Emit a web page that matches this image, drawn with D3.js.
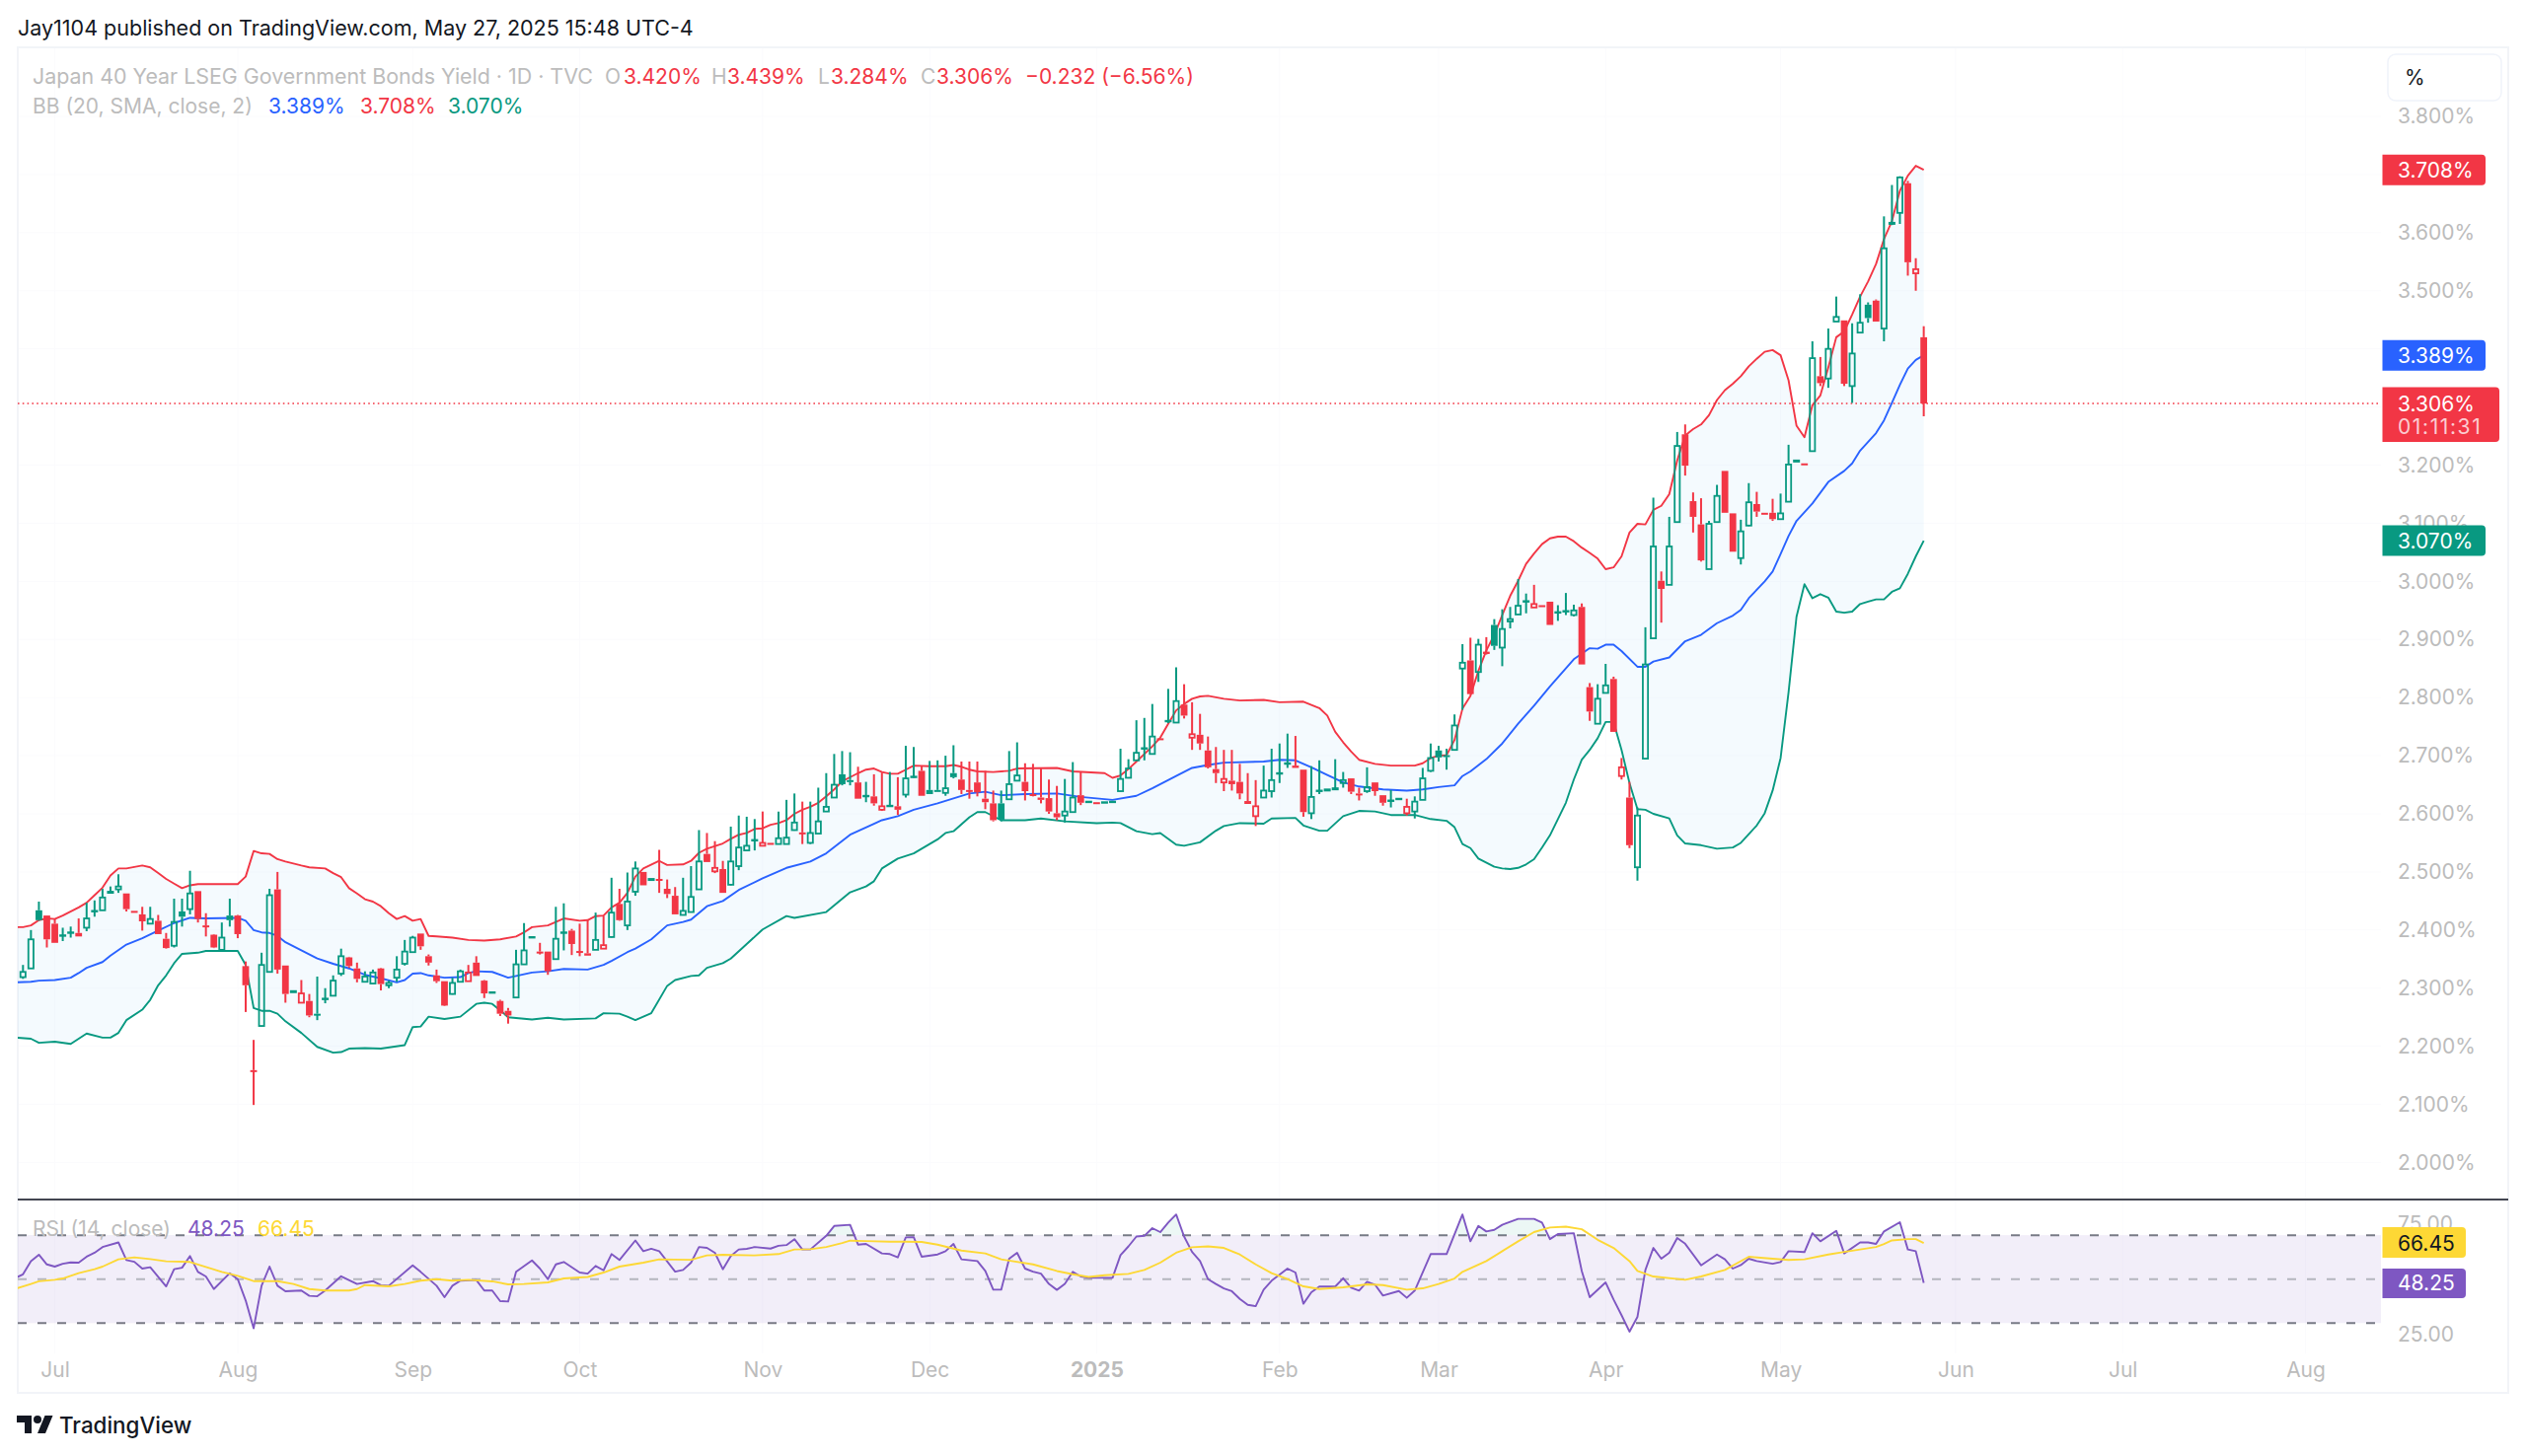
<!DOCTYPE html>
<html>
<head>
<meta charset="utf-8">
<title>Japan 40 Year Government Bonds Yield</title>
<style>
	html, body { margin: 0; background: #fff; }
	svg { display: block; }
	text { font-family: Inter, "Noto Sans", sans-serif; }
</style>
</head>
<body>
<div id="chart"></div>
<script src="https://cdn.jsdelivr.net/npm/d3@7"></script>
<script>
// daily candles, one entry per bar
var opens = [
	2.319,2.334,2.434,2.425,2.411,2.390,2.395,2.395,2.404,2.432,2.434,2.464,2.470,2.463,2.433,2.427,2.411,2.416,2.385,2.373,
	2.432,2.436,2.467,2.408,2.392,2.366,2.425,2.425,2.338,2.159,2.235,2.328,2.470,2.339,2.293,2.275,2.278,2.256,2.281,2.287,
	2.325,2.353,2.334,2.311,2.308,2.334,2.305,2.318,2.342,2.362,2.394,2.355,2.322,2.312,2.290,2.311,2.312,2.344,2.313,2.292,
	2.278,2.261,2.284,2.341,2.387,2.363,2.363,2.350,2.395,2.399,2.364,2.360,2.366,2.368,2.388,2.445,2.408,2.466,2.500,2.486,
	2.488,2.471,2.459,2.426,2.431,2.470,2.531,2.501,2.505,2.478,2.510,2.537,2.554,2.545,2.550,2.548,2.548,2.572,2.568,2.550,
	2.566,2.604,2.628,2.668,2.658,2.654,2.630,2.630,2.607,2.613,2.613,2.633,2.663,2.674,2.641,2.641,2.636,2.670,2.659,2.641,
	2.654,2.626,2.618,2.618,2.625,2.657,2.655,2.634,2.628,2.627,2.601,2.597,2.603,2.632,2.620,2.620,2.619,2.620,2.639,2.662,
	2.692,2.712,2.703,2.730,2.759,2.757,2.788,2.731,2.736,2.709,2.677,2.654,2.657,2.655,2.622,2.596,2.628,2.639,2.669,2.686,
	2.683,2.676,2.601,2.639,2.640,2.642,2.653,2.661,2.635,2.639,2.654,2.632,2.622,2.625,2.601,2.604,2.624,2.674,2.709,2.701,
	2.710,2.850,2.864,2.844,2.879,2.925,2.886,2.931,2.943,2.965,2.955,2.959,2.965,2.946,2.948,2.942,2.956,2.818,2.755,2.808,
	2.832,2.665,2.628,2.508,2.695,2.902,3.001,2.994,3.102,3.253,3.138,3.098,3.021,3.102,3.190,3.117,3.040,3.096,3.133,3.118,
	3.118,3.107,3.137,3.206,3.203,3.224,3.353,3.349,3.447,3.449,3.336,3.428,3.476,3.483,3.435,3.615,3.634,3.685,3.530,3.420
];
var highs = [
	2.340,2.400,2.449,2.425,2.420,2.404,2.406,2.420,2.447,2.451,2.471,2.475,2.496,2.463,2.433,2.440,2.440,2.426,2.395,2.454,
	2.454,2.502,2.467,2.429,2.393,2.413,2.454,2.426,2.346,2.211,2.361,2.471,2.500,2.339,2.295,2.314,2.290,2.320,2.300,2.322,
	2.368,2.354,2.344,2.329,2.332,2.335,2.313,2.355,2.383,2.390,2.394,2.358,2.332,2.312,2.318,2.332,2.340,2.355,2.314,2.293,
	2.280,2.266,2.366,2.412,2.388,2.378,2.363,2.440,2.446,2.402,2.411,2.417,2.430,2.424,2.490,2.471,2.499,2.518,2.500,2.488,
	2.538,2.487,2.474,2.490,2.510,2.572,2.567,2.553,2.519,2.578,2.597,2.595,2.591,2.604,2.550,2.604,2.624,2.635,2.621,2.621,
	2.645,2.670,2.703,2.708,2.706,2.681,2.655,2.668,2.671,2.672,2.663,2.717,2.715,2.683,2.691,2.692,2.700,2.718,2.690,2.690,
	2.690,2.674,2.640,2.640,2.708,2.723,2.687,2.686,2.678,2.659,2.648,2.660,2.689,2.672,2.621,2.620,2.620,2.621,2.712,2.694,
	2.761,2.765,2.789,2.730,2.815,2.852,2.823,2.792,2.772,2.733,2.715,2.710,2.710,2.686,2.670,2.658,2.683,2.712,2.721,2.738,
	2.734,2.676,2.682,2.692,2.642,2.694,2.672,2.661,2.645,2.680,2.654,2.632,2.641,2.626,2.626,2.630,2.679,2.721,2.717,2.712,
	2.771,2.892,2.903,2.901,2.904,2.935,2.952,2.956,3.004,2.979,2.994,2.959,2.965,2.959,2.980,2.960,2.962,2.825,2.823,2.858,
	2.836,2.696,2.655,2.611,2.921,3.144,3.017,3.111,3.257,3.270,3.153,3.143,3.104,3.166,3.190,3.117,3.106,3.169,3.154,3.118,
	3.142,3.151,3.235,3.208,3.203,3.413,3.386,3.435,3.490,3.449,3.444,3.494,3.480,3.485,3.628,3.682,3.697,3.689,3.556,3.439
];
var lows = [
	2.316,2.334,2.416,2.370,2.378,2.381,2.387,2.389,2.398,2.423,2.434,2.464,2.464,2.432,2.432,2.399,2.410,2.393,2.368,2.370,
	2.406,2.427,2.413,2.389,2.369,2.366,2.406,2.386,2.259,2.099,2.234,2.328,2.325,2.275,2.293,2.275,2.250,2.245,2.274,2.287,
	2.321,2.335,2.310,2.311,2.308,2.296,2.300,2.311,2.339,2.362,2.366,2.339,2.309,2.269,2.289,2.310,2.312,2.321,2.283,2.292,
	2.252,2.239,2.283,2.341,2.387,2.358,2.323,2.349,2.365,2.357,2.355,2.356,2.366,2.368,2.387,2.416,2.400,2.459,2.477,2.486,
	2.464,2.455,2.427,2.426,2.431,2.470,2.517,2.498,2.464,2.477,2.503,2.537,2.537,2.545,2.549,2.548,2.548,2.571,2.548,2.548,
	2.566,2.604,2.628,2.649,2.649,2.626,2.620,2.614,2.605,2.613,2.598,2.628,2.662,2.631,2.634,2.638,2.631,2.661,2.634,2.626,
	2.630,2.608,2.587,2.587,2.624,2.656,2.623,2.630,2.618,2.600,2.589,2.585,2.603,2.615,2.620,2.619,2.619,2.620,2.638,2.661,
	2.692,2.692,2.703,2.729,2.756,2.757,2.764,2.710,2.710,2.678,2.653,2.639,2.640,2.625,2.617,2.579,2.628,2.628,2.653,2.679,
	2.679,2.595,2.591,2.634,2.640,2.642,2.645,2.634,2.623,2.636,2.631,2.614,2.611,2.625,2.597,2.592,2.624,2.672,2.690,2.676,
	2.710,2.779,2.805,2.827,2.874,2.882,2.854,2.919,2.943,2.945,2.955,2.957,2.925,2.932,2.942,2.940,2.857,2.760,2.755,2.808,
	2.741,2.659,2.541,2.485,2.694,2.902,2.929,2.994,3.102,3.182,3.084,3.034,3.021,3.102,3.118,3.051,3.029,3.095,3.111,3.116,
	3.104,3.107,3.137,3.206,3.201,3.224,3.336,3.333,3.447,3.336,3.307,3.428,3.445,3.447,3.413,3.613,3.615,3.526,3.500,3.284
];
var closes = [
	2.328,2.384,2.417,2.384,2.378,2.391,2.396,2.389,2.420,2.433,2.456,2.466,2.475,2.436,2.432,2.415,2.419,2.393,2.369,2.414,
	2.423,2.463,2.419,2.407,2.370,2.387,2.417,2.393,2.305,2.158,2.340,2.460,2.332,2.290,2.295,2.291,2.253,2.254,2.282,2.313,
	2.355,2.338,2.316,2.320,2.327,2.307,2.309,2.332,2.363,2.387,2.372,2.344,2.312,2.270,2.309,2.329,2.327,2.321,2.291,2.293,
	2.256,2.253,2.341,2.365,2.388,2.361,2.329,2.385,2.396,2.376,2.363,2.356,2.383,2.374,2.430,2.417,2.449,2.506,2.477,2.488,
	2.487,2.462,2.427,2.433,2.457,2.518,2.517,2.507,2.464,2.518,2.542,2.545,2.555,2.550,2.549,2.558,2.559,2.585,2.566,2.567,
	2.587,2.612,2.650,2.651,2.655,2.626,2.631,2.618,2.613,2.614,2.607,2.661,2.664,2.631,2.634,2.638,2.644,2.663,2.641,2.639,
	2.637,2.620,2.589,2.590,2.651,2.666,2.639,2.633,2.624,2.604,2.594,2.604,2.628,2.619,2.621,2.619,2.620,2.621,2.660,2.678,
	2.705,2.713,2.733,2.729,2.760,2.794,2.769,2.737,2.721,2.680,2.670,2.660,2.651,2.635,2.617,2.613,2.640,2.658,2.670,2.687,
	2.679,2.603,2.629,2.640,2.642,2.644,2.658,2.638,2.634,2.646,2.639,2.619,2.623,2.626,2.612,2.621,2.661,2.696,2.697,2.698,
	2.752,2.860,2.806,2.891,2.875,2.889,2.918,2.935,2.958,2.966,2.961,2.957,2.925,2.947,2.949,2.950,2.857,2.776,2.798,2.821,
	2.741,2.680,2.546,2.597,2.857,3.060,2.987,3.060,3.233,3.199,3.111,3.036,3.099,3.147,3.118,3.051,3.086,3.136,3.120,3.116,
	3.107,3.117,3.201,3.208,3.201,3.384,3.341,3.400,3.455,3.340,3.392,3.445,3.453,3.447,3.573,3.617,3.695,3.549,3.537,3.306
];

// Bollinger bands: [bar, yield], kept at the bends of each line
var bbUpper = [
	[-1,2.405],[0,2.405],[1,2.408],[2,2.417],[3,2.420],[4,2.419],[5,2.425],[7,2.439],[8,2.447],[9,2.460],[10,2.473],[11,2.494],[12,2.506],[13,2.506],[15,2.511],[16,2.508],[17,2.498],[18,2.488],[19,2.480],[20,2.472],
	[21,2.477],[22,2.479],[27,2.479],[28,2.492],[29,2.536],[30,2.532],[31,2.531],[32,2.522],[33,2.518],[35,2.511],[36,2.508],[38,2.506],[39,2.498],[40,2.491],[41,2.472],[42,2.463],[43,2.453],[44,2.449],[45,2.441],[46,2.429],
	[47,2.419],[48,2.424],[49,2.416],[50,2.419],[51,2.390],[52,2.389],[54,2.387],[56,2.383],[58,2.382],[60,2.384],[62,2.389],[63,2.396],[64,2.405],[66,2.408],[67,2.414],[68,2.420],[70,2.416],[71,2.417],[72,2.424],[73,2.425],
	[74,2.439],[75,2.447],[76,2.464],[77,2.492],[78,2.506],[80,2.519],[81,2.512],[83,2.513],[84,2.519],[85,2.533],[86,2.540],[88,2.549],[89,2.557],[90,2.564],[91,2.567],[92,2.574],[93,2.575],[94,2.581],[95,2.584],[96,2.589],
	[97,2.600],[98,2.607],[99,2.612],[100,2.619],[101,2.630],[102,2.642],[103,2.656],[105,2.670],[106,2.676],[107,2.678],[108,2.672],[109,2.669],[110,2.669],[111,2.676],[112,2.683],[114,2.682],[116,2.682],[117,2.684],[118,2.681],[119,2.676],
	[120,2.673],[122,2.672],[124,2.674],[125,2.678],[130,2.679],[132,2.673],[136,2.670],[137,2.662],[138,2.666],[139,2.677],[140,2.690],[141,2.703],[142,2.716],[143,2.731],[144,2.755],[145,2.778],[146,2.789],[147,2.798],[148,2.802],[149,2.803],
	[151,2.798],[153,2.795],[156,2.796],[158,2.792],[161,2.793],[163,2.782],[164,2.769],[165,2.741],[166,2.723],[167,2.707],[168,2.693],[170,2.686],[172,2.683],[175,2.683],[176,2.687],[177,2.696],[178,2.700],[179,2.701],[180,2.727],[181,2.781],
	[182,2.803],[183,2.846],[184,2.881],[185,2.908],[186,2.942],[187,2.975],[188,3.001],[189,3.030],[190,3.048],[191,3.064],[192,3.074],[193,3.077],[194,3.077],[195,3.069],[196,3.058],[197,3.049],[198,3.039],[199,3.021],[200,3.024],[201,3.043],
	[202,3.084],[203,3.099],[204,3.098],[205,3.123],[206,3.130],[207,3.150],[208,3.208],[209,3.251],[210,3.262],[211,3.270],[212,3.286],[213,3.312],[214,3.329],[215,3.340],[216,3.353],[217,3.370],[218,3.383],[219,3.395],[220,3.398],[221,3.389],
	[222,3.346],[223,3.268],[224,3.248],[225,3.303],[226,3.320],[227,3.368],[228,3.420],[229,3.430],[230,3.459],[231,3.490],[232,3.516],[233,3.546],[234,3.589],[235,3.620],[236,3.672],[237,3.698],[238,3.715],[239,3.708]
];
var bbBasis = [
	[-1,2.310],[1,2.311],[2,2.313],[4,2.314],[6,2.318],[7,2.326],[8,2.335],[10,2.345],[11,2.356],[13,2.375],[15,2.386],[17,2.399],[19,2.412],[21,2.421],[23,2.420],[27,2.421],[28,2.416],[29,2.400],[30,2.396],[31,2.395],
	[32,2.390],[33,2.379],[35,2.365],[37,2.351],[39,2.342],[41,2.334],[43,2.323],[45,2.317],[47,2.310],[48,2.314],[49,2.325],[50,2.326],[51,2.322],[53,2.318],[55,2.319],[56,2.326],[57,2.329],[59,2.328],[61,2.318],[62,2.321],
	[64,2.327],[66,2.329],[68,2.333],[71,2.332],[73,2.340],[74,2.347],[76,2.362],[77,2.368],[79,2.384],[81,2.408],[83,2.414],[84,2.418],[86,2.441],[88,2.450],[90,2.469],[93,2.489],[96,2.507],[99,2.518],[101,2.532],[104,2.564],
	[107,2.583],[108,2.589],[110,2.596],[112,2.607],[115,2.618],[119,2.635],[121,2.638],[123,2.632],[126,2.634],[130,2.635],[133,2.629],[137,2.624],[140,2.631],[142,2.644],[145,2.665],[147,2.679],[149,2.684],[151,2.688],[156,2.690],[158,2.693],
	[160,2.692],[162,2.680],[164,2.667],[166,2.654],[168,2.647],[171,2.642],[174,2.640],[176,2.642],[178,2.646],[180,2.649],[181,2.665],[182,2.673],[184,2.694],[186,2.721],[188,2.755],[190,2.786],[192,2.819],[195,2.866],[197,2.885],[198,2.884],
	[199,2.891],[200,2.891],[201,2.880],[203,2.853],[204,2.853],[205,2.862],[207,2.869],[209,2.897],[211,2.908],[213,2.928],[215,2.941],[216,2.951],[217,2.971],[219,3.000],[220,3.017],[221,3.047],[222,3.078],[223,3.104],[225,3.134],[227,3.171],
	[229,3.190],[230,3.203],[231,3.225],[233,3.255],[234,3.277],[235,3.307],[236,3.338],[237,3.366],[238,3.381],[239,3.389]
];
var bbLower = [
	[-1,2.215],[1,2.213],[2,2.206],[4,2.208],[6,2.204],[8,2.222],[10,2.215],[11,2.215],[12,2.223],[13,2.245],[15,2.263],[16,2.280],[17,2.305],[18,2.322],[19,2.343],[20,2.359],[22,2.361],[23,2.364],[27,2.364],[28,2.340],
	[29,2.266],[30,2.261],[31,2.261],[32,2.256],[33,2.243],[35,2.223],[37,2.199],[39,2.189],[40,2.190],[41,2.196],[43,2.197],[45,2.196],[48,2.202],[49,2.233],[50,2.234],[51,2.251],[53,2.247],[55,2.251],[57,2.273],[58,2.275],
	[59,2.273],[60,2.262],[61,2.250],[64,2.246],[66,2.249],[68,2.246],[72,2.248],[73,2.257],[75,2.256],[76,2.251],[77,2.245],[79,2.257],[81,2.304],[82,2.314],[84,2.321],[85,2.322],[86,2.335],[88,2.343],[89,2.351],[91,2.376],
	[93,2.401],[96,2.424],[97,2.421],[101,2.431],[104,2.465],[106,2.475],[107,2.484],[108,2.506],[110,2.523],[112,2.532],[115,2.556],[116,2.567],[117,2.570],[119,2.594],[120,2.603],[121,2.603],[123,2.589],[126,2.589],[128,2.592],[131,2.587],
	[135,2.584],[137,2.585],[138,2.584],[140,2.570],[142,2.565],[143,2.567],[145,2.547],[146,2.545],[148,2.551],[150,2.571],[151,2.579],[153,2.584],[156,2.583],[157,2.592],[160,2.593],[161,2.580],[163,2.571],[164,2.571],[166,2.596],[168,2.605],
	[170,2.604],[172,2.598],[175,2.598],[177,2.591],[179,2.588],[180,2.577],[181,2.548],[182,2.541],[183,2.523],[185,2.509],[186,2.506],[187,2.505],[188,2.507],[189,2.513],[190,2.522],[191,2.542],[192,2.563],[193,2.591],[194,2.619],[195,2.659],
	[196,2.693],[197,2.710],[198,2.730],[199,2.758],[200,2.758],[201,2.710],[202,2.653],[203,2.608],[204,2.607],[205,2.600],[207,2.592],[208,2.563],[209,2.549],[211,2.546],[213,2.540],[215,2.542],[216,2.550],[217,2.565],[218,2.580],[219,2.601],
	[220,2.640],[221,2.696],[222,2.809],[223,2.939],[224,2.995],[225,2.971],[226,2.978],[227,2.972],[228,2.948],[229,2.946],[230,2.948],[231,2.961],[232,2.965],[233,2.969],[234,2.969],[235,2.982],[236,2.988],[237,3.013],[238,3.043],[239,3.070]
];

// RSI pane: [bar, value]
var rsiLine = [
	[-1,50.4],[0,52.2],[1,58.2],[2,61.1],[3,56.7],[4,55.7],[5,57.0],[6,57.6],[7,57.5],[8,60.2],[9,62.0],[10,64.6],[12,66.7],[13,58.7],[14,57.9],[15,54.8],[16,55.4],[18,46.7],[19,54.5],[20,55.2],
	[21,60.5],[22,53.3],[23,51.2],[24,45.5],[26,52.7],[27,50.0],[28,40.3],[29,27.6],[30,47.0],[31,55.7],[32,47.0],[33,44.5],[35,44.8],[36,42.4],[37,42.2],[38,44.8],[40,51.3],[42,47.8],[44,49.1],[45,47.2],
	[46,47.0],[49,56.3],[50,53.3],[52,47.0],[53,41.8],[54,47.0],[55,49.3],[57,49.6],[58,44.8],[59,44.8],[60,40.0],[61,39.8],[62,53.3],[64,58.5],[65,54.8],[66,50.0],[67,56.7],[68,57.8],[70,53.0],[71,52.5],
	[72,56.0],[73,54.0],[74,61.4],[75,58.7],[77,67.6],[78,62.7],[79,63.8],[80,62.7],[82,53.4],[83,54.2],[84,57.5],[85,64.6],[86,64.2],[87,62.0],[88,54.5],[89,60.5],[90,63.5],[91,63.8],[92,64.6],[94,63.9],
	[95,65.2],[96,65.5],[97,68.2],[98,63.5],[99,63.5],[101,69.7],[102,74.2],[104,74.7],[105,65.7],[106,66.0],[108,61.7],[109,61.4],[110,59.9],[111,69.0],[112,69.1],[113,60.2],[115,61.2],[116,62.7],[117,66.0],[118,59.0],
	[120,58.2],[121,53.7],[122,45.2],[123,45.2],[124,59.3],[125,62.0],[126,54.8],[127,53.4],[128,52.5],[129,47.8],[130,45.1],[131,47.8],[132,53.3],[133,51.2],[134,50.6],[137,50.6],[138,60.9],[139,64.9],[140,69.4],[141,69.7],
	[142,73.2],[143,71.4],[144,75.7],[145,79.4],[146,69.4],[147,62.4],[148,58.2],[149,50.0],[150,47.8],[151,45.8],[152,44.5],[153,41.0],[154,38.3],[155,37.7],[156,45.2],[157,49.3],[159,54.8],[160,53.0],[161,38.8],[162,44.0],
	[163,46.6],[165,46.6],[166,50.4],[167,46.1],[168,44.8],[169,48.8],[170,47.5],[171,42.5],[173,44.6],[174,41.5],[175,44.8],[177,61.4],[179,61.4],[181,79.4],[182,67.2],[183,74.2],[184,71.7],[185,72.4],[186,74.7],[188,77.4],
	[190,77.4],[191,75.7],[192,68.2],[193,70.5],[195,70.9],[196,53.7],[197,41.8],[199,48.5],[200,40.7],[201,33.6],[202,26.1],[203,32.8],[204,54.2],[205,64.2],[206,59.3],[207,62.0],[208,68.7],[209,66.1],[211,56.3],[213,61.2],
	[214,59.0],[215,54.8],[216,56.4],[217,59.3],[218,58.2],[220,57.0],[221,57.8],[222,62.7],[224,62.3],[225,70.9],[226,67.2],[228,72.0],[229,61.7],[231,66.7],[232,66.7],[233,66.0],[234,71.7],[236,75.9],[237,63.5],[238,62.7],[239,48.25]
];
var rsiMa = [
	[-1,45.5],[1,47.8],[2,49.0],[4,49.7],[5,50.3],[6,51.5],[7,52.7],[9,54.5],[10,55.7],[12,59.0],[14,59.9],[16,59.1],[18,58.1],[21,57.8],[23,55.5],[25,53.3],[27,51.5],[29,49.1],[32,49.1],[34,47.8],
	[36,45.5],[38,44.8],[41,44.8],[42,45.5],[43,47.3],[46,46.7],[48,47.8],[50,49.3],[52,50.0],[54,49.3],[56,49.7],[59,49.0],[61,47.6],[63,47.8],[66,48.5],[68,50.3],[71,51.0],[73,53.0],[75,55.7],[78,57.5],
	[80,59.0],[84,58.8],[86,60.8],[88,61.1],[92,60.8],[95,61.4],[97,63.5],[99,63.6],[101,64.6],[103,66.4],[104,67.5],[106,67.3],[109,67.0],[111,67.0],[113,66.9],[115,65.7],[118,63.0],[121,61.7],[123,59.0],[127,56.7],
	[130,53.7],[132,52.2],[134,51.0],[136,51.8],[139,52.4],[141,54.2],[143,57.5],[145,62.0],[147,64.5],[149,64.9],[151,64.2],[153,61.2],[155,56.7],[157,52.7],[159,50.0],[161,46.7],[163,45.5],[166,46.3],[169,47.6],[171,47.3],
	[174,45.2],[176,45.8],[178,47.8],[180,50.3],[181,53.3],[184,58.2],[186,62.7],[188,67.2],[190,71.4],[192,73.5],[194,73.9],[196,72.7],[198,67.9],[200,64.2],[202,58.2],[203,53.7],[205,51.2],[209,49.7],[211,51.2],[214,54.2],
	[217,60.2],[220,59.3],[222,58.7],[224,59.0],[227,61.2],[229,62.4],[233,64.6],[234,66.0],[235,67.6],[237,68.2],[238,68.2],[239,66.45]
];

var monthTicks = [4, 27, 49, 70, 93, 114, 135, 158, 178, 199, 221, 243, 264, 287];
var monthLabels = ["Jul", "Aug", "Sep", "Oct", "Nov", "Dec", "2025", "Feb", "Mar", "Apr", "May", "Jun", "Jul", "Aug"];
var gridTicks = [2.0, 2.1, 2.2, 2.3, 2.4, 2.5, 2.6, 2.7, 2.8, 2.9, 3.0, 3.1, 3.2, 3.3, 3.4, 3.5, 3.6, 3.7, 3.8];
// 3.3, 3.4 and 3.7 sit behind the value tags in the reference
var priceTicks = [2.0, 2.1, 2.2, 2.3, 2.4, 2.5, 2.6, 2.7, 2.8, 2.9, 3.0, 3.1, 3.2, 3.5, 3.6, 3.8];
var rsiTicks = [25, 75];
var rsiLevels = [70, 50, 30];

var upColor = "#089981", downColor = "#f23645", basisColor = "#2962ff";
var rsiColor = "#7e57c2", maColor = "#fdd835";
var faintText = "#bcbcbc";

var width = 2560, height = 1476;
var paneLeft = 18, paneRight = 2542, paneTop = 48, paneBottom = 1412;
var plotRight = 2413, splitY = 1216;

var svg = d3.select("#chart").append("svg").attr("width", width).attr("height", height);
var x = d3.scaleLinear().domain([0, 287]).range([23.3, 23.3 + 287 * 8.06]);
var y = d3.scaleLinear().domain([2.0, 3.8]).range([1178.5, 118]);
var rsiY = d3.scaleLinear().domain([25, 75]).range([1352.4, 1241]);

var defs = svg.append("defs");
function addClip(id, top, bottom) {
	defs.append("clipPath").attr("id", id).append("rect")
		.attr("x", paneLeft).attr("y", top).attr("width", plotRight - paneLeft).attr("height", bottom - top);
}
addClip("priceClip", paneTop, splitY);
addClip("rsiClip", splitY, 1372);
addClip("rsiOver", splitY, rsiY(70));
addClip("rsiUnder", rsiY(30), 1372);

// faint grid
var grid = svg.append("g").attr("stroke", "#fbfbfd").attr("stroke-width", 1);
grid.selectAll(".hgrid").data(gridTicks).enter().append("line")
	.attr("x1", paneLeft).attr("x2", plotRight)
	.attr("y1", function(d) { return y(d); }).attr("y2", function(d) { return y(d); });
grid.selectAll(".vgrid").data(monthTicks).enter().append("line")
	.attr("x1", function(d) { return x(d); }).attr("x2", function(d) { return x(d); })
	.attr("y1", paneTop).attr("y2", 1372);

// pane frame
svg.append("rect").attr("x", paneLeft).attr("y", paneTop)
	.attr("width", paneRight - paneLeft).attr("height", paneBottom - paneTop)
	.attr("fill", "none").attr("stroke", "#f2f4f8").attr("stroke-width", 2);
svg.append("line").attr("x1", paneLeft).attr("x2", paneRight).attr("y1", splitY).attr("y2", splitY)
	.attr("stroke", "#434651").attr("stroke-width", 2);

// bollinger bands under the candles
var price = svg.append("g").attr("clip-path", "url(#priceClip)");
var bbLine = d3.line().x(function(d) { return x(d[0]); }).y(function(d) { return y(d[1]); });
price.append("path")
	.attr("d", bbLine(bbUpper.concat(bbLower.slice().reverse())) + "Z")
	.attr("fill", "#2196f3").attr("fill-opacity", 0.05);
[[bbUpper, downColor], [bbBasis, basisColor], [bbLower, upColor]].forEach(function(s) {
	price.append("path").attr("d", bbLine(s[0]))
		.attr("fill", "none").attr("stroke", s[1]).attr("stroke-width", 1.9).attr("stroke-linejoin", "round");
});

// last price line
price.append("line").attr("x1", paneLeft).attr("x2", plotRight)
	.attr("y1", y(closes[239])).attr("y2", y(closes[239]))
	.attr("stroke", downColor).attr("stroke-width", 1.6).attr("stroke-dasharray", "1.6 3.2");

// candles: colour against the previous close, hollow when close is above open
var candleData = closes.map(function(c, i) {
	return {i: i, o: opens[i], h: highs[i], l: lows[i], c: c,
		color: (i > 0 && c < closes[i - 1]) ? downColor : upColor, hollow: c >= opens[i]};
});
var candles = price.selectAll(".candle").data(candleData).enter().append("g").attr("class", "candle");
candles.append("line")
	.attr("x1", function(d) { return x(d.i); }).attr("x2", function(d) { return x(d.i); })
	.attr("y1", function(d) { return y(d.h); })
	.attr("y2", function(d) { return y(Math.max(d.o, d.c)); })
	.attr("stroke", function(d) { return d.color; }).attr("stroke-width", 2);
candles.append("line")
	.attr("x1", function(d) { return x(d.i); }).attr("x2", function(d) { return x(d.i); })
	.attr("y1", function(d) { return y(Math.min(d.o, d.c)); })
	.attr("y2", function(d) { return y(d.l); })
	.attr("stroke", function(d) { return d.color; }).attr("stroke-width", 2);
candles.append("rect")
	.attr("x", function(d) { return x(d.i) - (d.hollow ? 2.6 : 3.4); })
	.attr("width", function(d) { return d.hollow ? 5.2 : 6.8; })
	.attr("y", function(d) { return y(Math.max(d.o, d.c)); })
	.attr("height", function(d) { return Math.max(d.hollow ? 0.6 : 2, Math.abs(y(d.o) - y(d.c))); })
	.attr("fill", function(d) { return d.hollow ? "none" : d.color; })
	.attr("stroke", function(d) { return d.hollow ? d.color : "none"; })
	.attr("stroke-width", 1.8);

// RSI pane
var rsi = svg.append("g").attr("clip-path", "url(#rsiClip)");
rsi.append("rect").attr("x", paneLeft).attr("width", plotRight - paneLeft)
	.attr("y", rsiY(70)).attr("height", rsiY(30) - rsiY(70))
	.attr("fill", rsiColor).attr("fill-opacity", 0.1);
rsiLevels.forEach(function(level) {
	rsi.append("line").attr("x1", paneLeft).attr("x2", plotRight)
		.attr("y1", rsiY(level)).attr("y2", rsiY(level))
		.attr("stroke", level === 50 ? "#b5b6be" : "#787b86").attr("stroke-width", 2)
		.attr("stroke-dasharray", "9 11");
});
var rsiPath = d3.line().x(function(d) { return x(d[0]); }).y(function(d) { return rsiY(d[1]); });
var rsiOverArea = d3.area().x(function(d) { return x(d[0]); }).y0(rsiY(70)).y1(function(d) { return rsiY(d[1]); });
var rsiUnderArea = d3.area().x(function(d) { return x(d[0]); }).y0(rsiY(30)).y1(function(d) { return rsiY(d[1]); });
rsi.append("path").attr("d", rsiOverArea(rsiLine)).attr("clip-path", "url(#rsiOver)")
	.attr("fill", upColor).attr("fill-opacity", 0.08);
rsi.append("path").attr("d", rsiUnderArea(rsiLine)).attr("clip-path", "url(#rsiUnder)")
	.attr("fill", downColor).attr("fill-opacity", 0.08);
rsi.append("path").attr("d", rsiPath(rsiLine)).attr("fill", "none")
	.attr("stroke", rsiColor).attr("stroke-width", 1.9).attr("stroke-linejoin", "round");
rsi.append("path").attr("d", rsiPath(rsiMa)).attr("fill", "none")
	.attr("stroke", maColor).attr("stroke-width", 1.9).attr("stroke-linejoin", "round");

// axes
function styleAxis(g, anchor) {
	g.select(".domain").remove();
	g.selectAll(".tick line").remove();
	g.selectAll("text").attr("fill", faintText).attr("font-size", 21)
		.style("font-family", "Inter, sans-serif").attr("text-anchor", anchor);
}
var priceAxis = d3.axisRight(y).tickValues(priceTicks).tickSize(0).tickPadding(0)
	.tickFormat(function(d) { return d3.format(".3f")(d) + "%"; });
svg.append("g").attr("transform", "translate(2430,0)").call(priceAxis).call(styleAxis, "start");
var rsiAxis = d3.axisRight(rsiY).tickValues(rsiTicks).tickSize(0).tickPadding(0)
	.tickFormat(d3.format(".2f"));
svg.append("g").attr("transform", "translate(2430,0)").call(rsiAxis).call(styleAxis, "start");
var timeAxis = d3.axisBottom(x).tickValues(monthTicks).tickSize(0).tickPadding(0)
	.tickFormat(function(d, i) { return monthLabels[i]; });
svg.append("g").attr("transform", "translate(0,1381.5)").call(timeAxis).call(styleAxis, "middle")
	.selectAll("text").attr("font-weight", function(d) { return d === 135 ? 700 : 400; });

// tags on the axes
function tag(value, scale, color, label, textColor, right, top, bottom) {
	var cy = scale(value);
	var y0 = top !== undefined ? top : cy - 15.5;
	var y1 = bottom !== undefined ? bottom : cy + 15.5;
	svg.append("path")
		.attr("d", "M2414.5," + y0 + "H" + (right - 4) + "Q" + right + "," + y0 + " " + right + "," + (y0 + 4)
			+ "V" + (y1 - 4) + "Q" + right + "," + y1 + " " + (right - 4) + "," + y1 + "H2414.5Z")
		.attr("fill", color);
	svg.append("text").attr("x", 2430).attr("y", cy).attr("dy", "0.36em")
		.attr("font-size", 21).attr("fill", textColor).text(label);
}
tag(bbUpper[bbUpper.length - 1][1], y, downColor, "3.708%", "#fff", 2519);
tag(bbBasis[bbBasis.length - 1][1], y, basisColor, "3.389%", "#fff", 2519);
tag(bbLower[bbLower.length - 1][1], y, upColor, "3.070%", "#fff", 2519);
tag(closes[239], y, downColor, "3.306%", "#fff", 2533, 392.5, 448);
svg.append("text").attr("x", 2430).attr("y", 432).attr("dy", "0.36em")
	.attr("font-size", 21).attr("letter-spacing", 1.6).attr("fill", "#fff").attr("fill-opacity", 0.75).text("01:11:31");
tag(rsiMa[rsiMa.length - 1][1], rsiY, maColor, "66.45", "#131722", 2499, 1244, 1275);
tag(rsiLine[rsiLine.length - 1][1], rsiY, rsiColor, "48.25", "#fff", 2499, 1286, 1316);

// % button
svg.append("rect").attr("x", 2420).attr("y", 55).attr("width", 115).attr("height", 47).attr("rx", 8)
	.attr("fill", "#fff").attr("stroke", "#f0f3fa").attr("stroke-width", 1.5);
svg.append("text").attr("x", 2437).attr("y", 78).attr("dy", "0.36em")
	.attr("font-size", 21).attr("fill", "#131722").text("%");

// header and legends
function label(px, py, str, color, size) {
	svg.append("text").attr("x", px).attr("y", py).attr("dy", "0.36em")
		.attr("font-size", size || 21).attr("fill", color).text(str);
}
label(18, 28, "Jay1104 published on TradingView.com, May 27, 2025 15:48 UTC-4", "#131722", 21.5);
label(33, 77, "Japan 40 Year LSEG Government Bonds Yield · 1D · TVC", faintText, 21.4);
[[613, "O", 632, "3.420%"], [721, "H", 737, "3.439%"], [829, "L", 842, "3.284%"], [933, "C", 949, "3.306%"]].forEach(function(d) {
	label(d[0], 77, d[1], faintText);
	label(d[2], 77, d[3], downColor);
});
label(1039, 77, "−0.232 (−6.56%)", downColor);
label(33, 107, "BB (20, SMA, close, 2)", faintText);
label(272, 107, "3.389%", basisColor);
label(365, 107, "3.708%", downColor);
label(454, 107, "3.070%", upColor);
label(33, 1245, "RSI (14, close)", faintText);
label(190, 1245, "48.25", rsiColor);
label(261, 1245, "66.45", maColor);

// logo
var logo = svg.append("g").attr("transform", "translate(17,1434)");
logo.append("path").attr("d", "M15,19H8V8H0V1H15ZM29,19H21L28.5,1H36.5Z").attr("fill", "#131722");
logo.append("circle").attr("cx", 21).attr("cy", 5).attr("r", 4).attr("fill", "#131722");
svg.append("text").attr("x", 60).attr("y", 1445).attr("dy", "0.36em")
	.attr("font-size", 22.4).attr("font-weight", 500).attr("fill", "#131722").text("TradingView");
</script>
</body>
</html>
